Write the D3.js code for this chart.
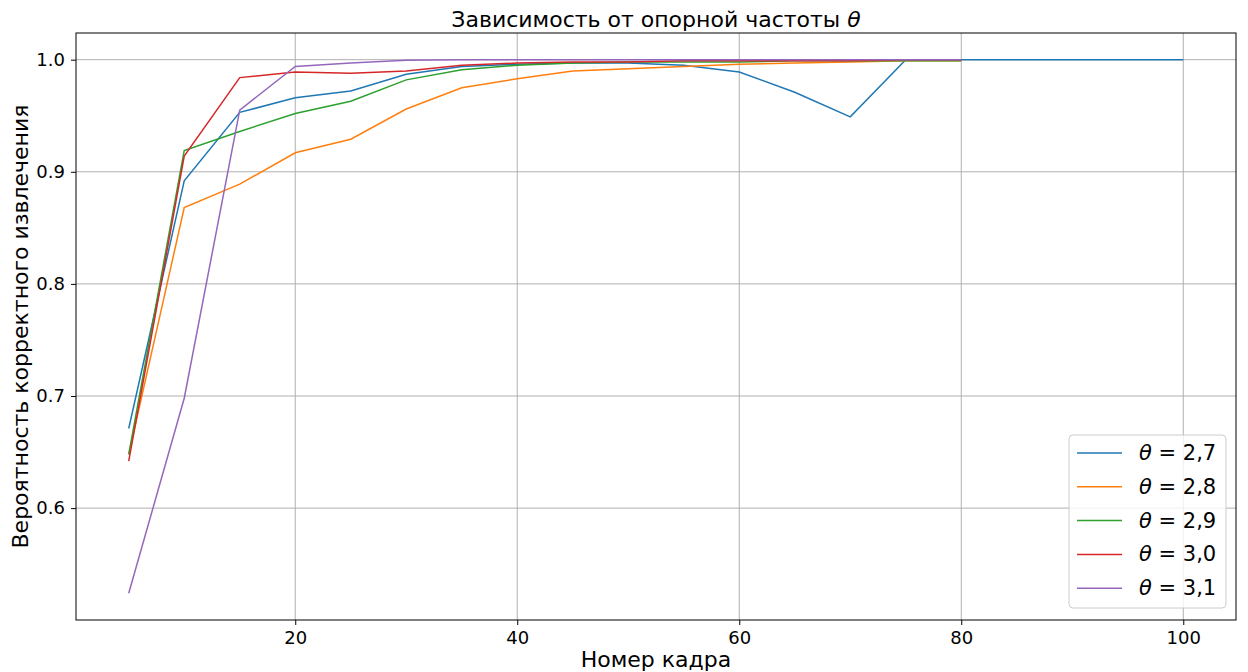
<!DOCTYPE html>
<html><head><meta charset="utf-8">
<script src="https://cdn.jsdelivr.net/npm/d3@7/dist/d3.min.js"></script>
<style>body{margin:0;background:#fff}svg{display:block}text{font-family:"DejaVu Sans",sans-serif}</style>
</head><body><svg id="c" width="1248" height="672"></svg>
<script>
const frames = [5,10,15,20,25,30,35,40,45,50,55,60,65,70,75,80,85,90,95,100];
const thetaLabels = ["2,7","2,8","2,9","3,0","3,1"];
const colors = ["#1f77b4","#ff7f0e","#2ca02c","#d62728","#9467bd"];
const s27 = [0.671,0.892,0.953,0.966,0.972,0.987,0.994,0.996,0.997,0.997,0.995,0.989,0.971,0.949,1.0,1.0,1.0,1.0,1.0,1.0];
const s28 = [0.648,0.868,0.889,0.917,0.929,0.956,0.975,0.983,0.990,0.992,0.994,0.996,0.997,0.998,0.999,0.999];
const s29 = [0.648,0.919,0.936,0.952,0.963,0.982,0.991,0.995,0.997,0.998,0.998,0.998,0.999,0.999,0.999,0.999];
const s30 = [0.642,0.914,0.984,0.989,0.988,0.990,0.995,0.997,0.998,0.998,0.999,0.999,0.999,0.999,1.0,1.0];
const s31 = [0.524,0.698,0.955,0.994,0.997,0.9995,1.0,1.0,1.0,1.0,1.0,1.0,1.0,1.0,1.0,1.0];
const series = [s27,s28,s29,s30,s31];
const xTicks = [20,40,60,80,100];
const yTicks = [0.6,0.7,0.8,0.9,1.0];

const svg = d3.select("#c");
const L=76,R=1236,T=33,B=620;
const x = d3.scaleLinear().domain([0.25,104.75]).range([L,R]);
const y = d3.scaleLinear().domain([0.5002,1.0238]).range([B,T]);

// grid
const g = svg.append("g");
g.selectAll(".gx").data(xTicks).join("line").attr("x1",d=>x(d)).attr("x2",d=>x(d)).attr("y1",T).attr("y2",B).attr("stroke","#b0b0b0").attr("stroke-width",1);
g.selectAll(".gy").data(yTicks).join("line").attr("y1",d=>y(d)).attr("y2",d=>y(d)).attr("x1",L).attr("x2",R).attr("stroke","#b0b0b0").attr("stroke-width",1);

// lines
const line = d3.line().x((d,i)=>x(frames[i])).y(d=>y(d));
series.forEach((s,k)=>{
  svg.append("path").datum(s).attr("d",line).attr("fill","none").attr("stroke",colors[k]).attr("stroke-width",1.5);
});

// axes
const xa = svg.append("g").attr("transform",`translate(0,${B})`).call(d3.axisBottom(x).tickValues(xTicks).tickFormat(d3.format("d")).tickSize(5).tickPadding(6));
const ya = svg.append("g").attr("transform",`translate(${L},0)`).call(d3.axisLeft(y).tickValues(yTicks).tickFormat(d3.format(".1f")).tickSize(5).tickPadding(6));
[xa,ya].forEach(a=>{a.select(".domain").remove();a.selectAll("text").attr("font-size",18).attr("font-family","DejaVu Sans").attr("fill","#000");a.selectAll("line").attr("stroke","#000");});
svg.append("rect").attr("x",L).attr("y",T).attr("width",R-L).attr("height",B-T).attr("fill","none").attr("stroke","#000").attr("stroke-width",1);

// title & labels
const title = svg.append("text").attr("x",(L+R)/2).attr("y",27).attr("text-anchor","middle").attr("font-size",22);
title.append("tspan").text("Зависимость от опорной частоты ");
title.append("tspan").attr("font-style","italic").text("θ");
svg.append("text").attr("x",(L+R)/2).attr("y",667).attr("text-anchor","middle").attr("font-size",22).text("Номер кадра");
svg.append("text").attr("transform",`translate(28,${(T+B)/2}) rotate(-90)`).attr("text-anchor","middle").attr("font-size",22).text("Вероятность корректного извлечения");

// legend
const lg = svg.append("g");
lg.append("rect").attr("x",1069).attr("y",435).attr("width",157).attr("height",173).attr("rx",4).attr("fill","#fff").attr("fill-opacity",0.8).attr("stroke","#ccc");
thetaLabels.forEach((t,i)=>{
  const yy = 453 + i*33.8;
  lg.append("line").attr("x1",1077).attr("x2",1122).attr("y1",yy).attr("y2",yy).attr("stroke",colors[i]).attr("stroke-width",1.5);
  const tx = lg.append("text").attr("x",1139).attr("y",yy+7).attr("font-size",21);
  tx.append("tspan").attr("font-style","italic").text("θ");
  tx.append("tspan").text(" = "+t);
});
</script></body></html>
